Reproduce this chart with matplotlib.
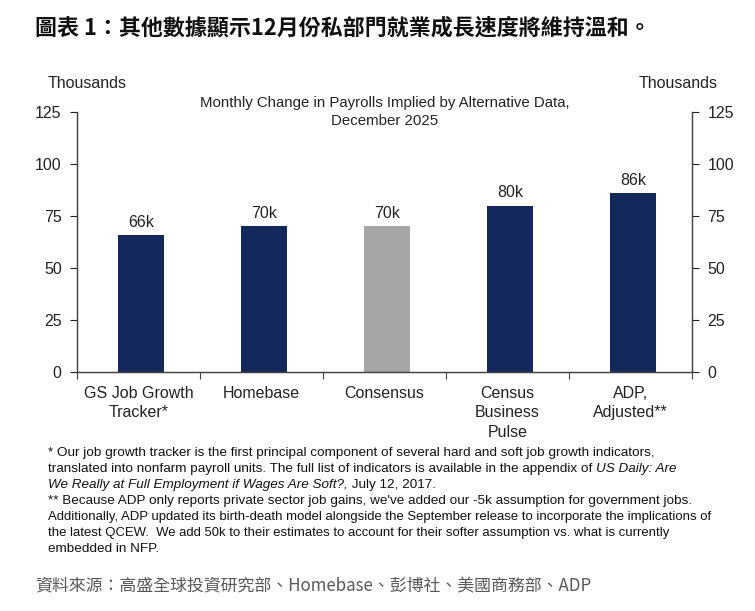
import matplotlib
matplotlib.use("Agg")
import matplotlib.pyplot as plt
import numpy as np

plt.rcParams['font.family'] = ['Liberation Sans', 'Noto Sans CJK TC', 'DejaVu Sans']

categories = ["GS Job Growth\nTracker*", "Homebase", "Consensus", "Census\nBusiness\nPulse", "ADP,\nAdjusted**"]
values = [66, 70, 70, 80, 86]
value_labels = ["66k", "70k", "70k", "80k", "86k"]
colors = ["#13295b", "#13295b", "#a6a6a6", "#13295b", "#13295b"]
yticks = [0, 25, 50, 75, 100, 125]

W, H = 755, 611
fig = plt.figure(figsize=(W / 100, H / 100), dpi=100)
ax = fig.add_axes([77 / W, 1 - 372 / H, (692 - 77) / W, (372 - 112) / H])

x = np.arange(len(categories))
ax.bar(x + 0.02, values, width=0.38, color=colors, zorder=2)
for xi, v, lab in zip(x, values, value_labels):
    ax.text(xi + 0.02, v + 2.5, lab, ha='center', va='bottom', fontsize=11.5, color='#222222')

ax.set_xlim(-0.5, len(categories) - 0.5)
ax.set_ylim(0, 125)
ax.set_yticks(yticks)
ax.tick_params(axis='y', direction='out', length=5, labelsize=11.5, colors='#222222', pad=6)
ax.set_xticks(np.arange(-0.5, len(categories)))
ax.set_xticklabels([])
ax.tick_params(axis='x', direction='out', length=5, colors='#444444')
for xi, c in zip(x, categories):
    ax.text(xi, -6.5, c, ha='center', va='top', fontsize=11.5, color='#222222', linespacing=1.38)

ax2 = ax.twinx()
ax2.set_ylim(0, 125)
ax2.set_yticks(yticks)
ax2.tick_params(axis='y', direction='out', length=5, labelsize=11.5, colors='#222222', pad=6)

for a in (ax, ax2):
    a.spines['top'].set_visible(False)
    for s in ('left', 'right', 'bottom'):
        a.spines[s].set_color('#444444')
        a.spines[s].set_linewidth(0.9)

fig.text(48 / W, 1 - 83 / H, "Thousands", ha='left', va='center', fontsize=11.5, color='#222222')
fig.text(718 / W, 1 - 83 / H, "Thousands", ha='right', va='center', fontsize=11.5, color='#222222')
fig.text(385 / W, 1 - 112 / H, "Monthly Change in Payrolls Implied by Alternative Data,\nDecember 2025",
         ha='center', va='center', fontsize=10.8, color='#222222', linespacing=1.3)

fig.text(35 / W, 1 - 28 / H, "圖表 1：其他數據顯示12月份私部門就業成長速度將維持溫和。",
         ha='left', va='center', fontsize=15.8, fontweight='bold', color='#111111',
         family=['Noto Sans CJK TC', 'DejaVu Sans'])

fs = 9.7
fc = '#111111'
lines_y = [453, 469, 485, 501, 517, 533, 549]
def ly(i):
    return 1 - lines_y[i] / H

fx = 48 / W
fig.text(fx, ly(0), "* Our job growth tracker is the first principal component of several hard and soft job growth indicators,",
         fontsize=fs, color=fc, va='center')
t1 = fig.text(fx, ly(1), "translated into nonfarm payroll units. The full list of indicators is available in the appendix of ",
              fontsize=fs, color=fc, va='center')
plt.annotate("US Daily: Are", xy=(1, 0), xycoords=t1, va='bottom', ha='left',
             fontsize=fs, color=fc, style='italic', annotation_clip=False)
t3 = fig.text(fx, ly(2), "We Really at Full Employment if Wages Are Soft?,", fontsize=fs, color=fc,
              style='italic', va='center')
plt.annotate(" July 12, 2017.", xy=(1, 0), xycoords=t3, va='bottom', ha='left',
             fontsize=fs, color=fc, annotation_clip=False)
fig.text(fx, ly(3), "** Because ADP only reports private sector job gains, we've added our -5k assumption for government jobs.",
         fontsize=fs, color=fc, va='center')
fig.text(fx, ly(4), "Additionally, ADP updated its birth-death model alongside the September release to incorporate the implications of",
         fontsize=fs * 0.97, color=fc, va='center')
fig.text(fx, ly(5), "the latest QCEW.  We add 50k to their estimates to account for their softer assumption vs. what is currently",
         fontsize=fs * 0.97, color=fc, va='center')
fig.text(fx, ly(6), "embedded in NFP.", fontsize=fs, color=fc, va='center')

fig.text(35 / W, 1 - 586 / H, "資料來源：高盛全球投資研究部、Homebase、彭博社、美國商務部、ADP",
         ha='left', va='center', fontsize=12.2, color='#595959',
         family=['Noto Sans CJK TC', 'DejaVu Sans'])

fig.savefig("out.png", dpi=100)
